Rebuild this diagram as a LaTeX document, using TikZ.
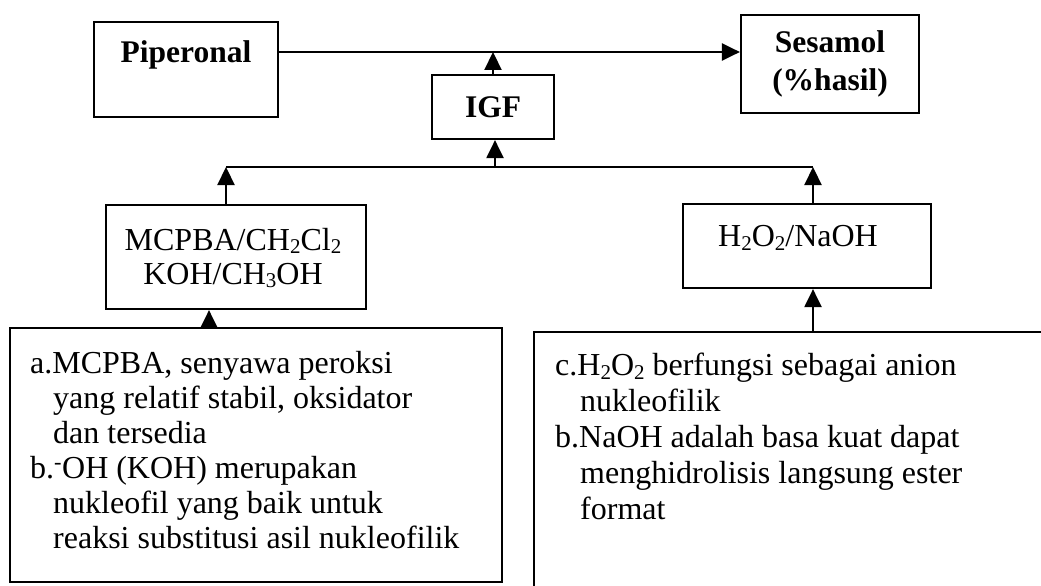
\documentclass[tikz,border=0pt]{standalone}
\usepackage{fontspec}
\setmainfont{Liberation Serif}
\usetikzlibrary{arrows.meta}
\newcommand\chsub[1]{\raisebox{-0.12em}{\fontsize{21}{21}\selectfont #1}}
\begin{document}
\begin{tikzpicture}[x=1pt,y=-1pt,
  box/.style={draw, line width=2.2pt, inner sep=0pt},
  arr/.style={line width=2.2pt, -{Triangle[length=18pt,width=17pt]}},
  ln/.style={line width=2.2pt},
  rtxt/.style={font=\fontsize{32}{35}\selectfont, inner sep=0pt},
  btxt/.style={font=\fontsize{31.5}{38}\selectfont\bfseries, inner sep=0pt}]
\clip (0,0) rectangle (1041,586);
\fill[white] (0,0) rectangle (1041,586);
% top row
\node[box, minimum width=184pt, minimum height=95pt] (pip) at (186,69.5) {};
\node[btxt, anchor=base] (piptxt) at (186,62.5) {Piperonal};
\node[box, btxt, align=center, minimum width=178pt, minimum height=98pt] (ses) at (830,64) {Sesamol\\(\%hasil)};
\node[box, btxt, minimum width=122pt, minimum height=64pt] (igf) at (493,107) {IGF};
% middle row
\node[box, minimum width=260pt, minimum height=104pt] (mcp) at (236,257) {};
\node[rtxt, align=center, font=\fontsize{32}{34}\selectfont] (mcptxt) at (233,258)
  {MCPBA/CH\chsub{2}Cl\chsub{2}\\KOH/CH\chsub{3}OH};
\node[box, minimum width=248pt, minimum height=84pt] (hoo) at (807,246) {};
\node[rtxt] (hootxt) at (798,238) {H\chsub{2}O\chsub{2}/NaOH};
% bottom row
\node[box, minimum width=492pt, minimum height=254pt] (lbox) at (256,455) {};
\node[rtxt, align=left, anchor=north west] (ltxt) at (30,351) {a.MCPBA, senyawa peroksi\\
\hspace*{23pt}yang relatif stabil, oksidator\\
\hspace*{23pt}dan tersedia\\
b.\textsuperscript{-}OH (KOH) merupakan\\
\hspace*{23pt}nukleofil yang baik untuk\\
\hspace*{23pt}reaksi substitusi asil nukleofilik};
\node[box, minimum width=560pt, minimum height=300pt] (rbox) at (814,482) {};
\node[rtxt, align=left, anchor=north west, font=\fontsize{32}{36}\selectfont] (rtx) at (555,353) {c.H\chsub{2}O\chsub{2} berfungsi sebagai anion\\
\hspace*{25pt}nukleofilik\\
b.NaOH adalah basa kuat dapat\\
\hspace*{25pt}menghidrolisis langsung ester\\
\hspace*{25pt}format};
% connectors
\coordinate (main) at (0,52);
\coordinate (jl) at (226,167);
\coordinate (jr) at (813,167);
\coordinate (xa) at (209,0);
\coordinate (xi) at (495,0);
\draw[arr] (pip.east |- main) -- (ses.west |- main);
\draw[arr] (igf.north) -- (igf.north |- main);
\draw[ln] (jl) -- (jr);
\draw[arr] (jl |- mcp.north) -- (jl);
\draw[arr] (jr |- hoo.north) -- (jr);
\draw[arr] (xi |- jl) -- (xi |- igf.south);
\draw[arr] (xa |- lbox.north) -- (xa |- mcp.south);
\draw[arr] (jr |- rbox.north) -- (jr |- hoo.south);
\end{tikzpicture}
\end{document}
